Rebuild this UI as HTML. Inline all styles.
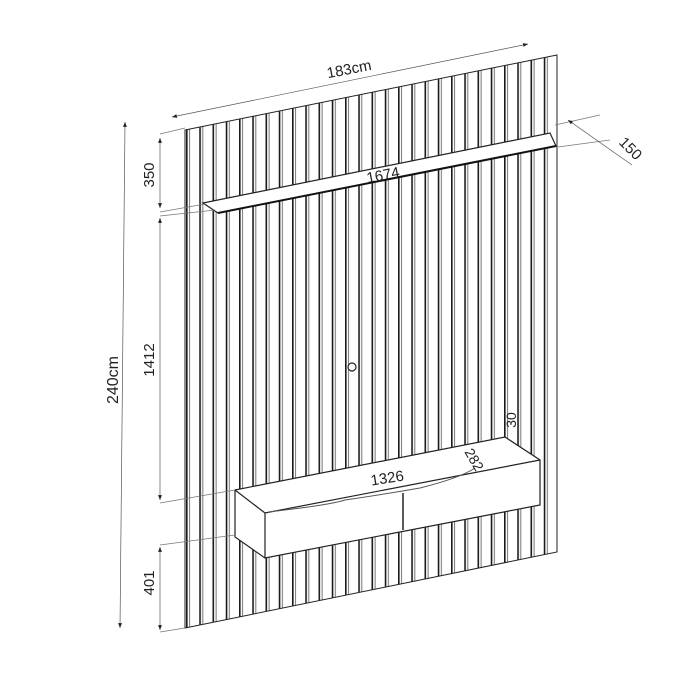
<!DOCTYPE html>
<html><head><style>
html,body{margin:0;padding:0;background:#fff;width:700px;height:700px;overflow:hidden}
svg text{font-family:"Liberation Sans",sans-serif;fill:#222}
</style></head><body>
<svg width="700" height="700" viewBox="0 0 700 700" xmlns="http://www.w3.org/2000/svg">
<defs>
<pattern id="sl" patternUnits="userSpaceOnUse" x="186" y="0" width="13.25" height="10">
<rect x="0" y="0" width="13.25" height="10" fill="#fff"/>
<rect x="0" y="0" width="1.6" height="10" fill="#1a1a1a"/>
<rect x="3.2" y="0" width="0.8" height="10" fill="#555"/>
</pattern>
<marker id="ar" viewBox="0 0 10 10" refX="10" refY="5" markerWidth="7" markerHeight="7" orient="auto-start-reverse"><path d="M0,1 L10,5 L0,9 z" fill="#222"/></marker>
</defs>

<polygon points="185,130 557,55 557,552 185,628" fill="url(#sl)" stroke="#222" stroke-width="1"/>

<!-- top shelf -->
<polygon points="203,203 550,133 556,146 218,213" fill="#fff" stroke="#222" stroke-width="1.2"/>
<line x1="218" y1="213" x2="556" y2="146" stroke="#111" stroke-width="2"/>

<circle cx="352" cy="367" r="4" fill="#fff" stroke="#222" stroke-width="1.2"/>

<!-- cabinet -->
<polygon points="235,490 505,437 540,460 540,505 265,558 235,537" fill="#fff" stroke="#222" stroke-width="1.2"/>
<polyline points="235,490 265,513 540,460" fill="none" stroke="#222" stroke-width="1.2"/>
<line x1="265" y1="513" x2="265" y2="558" stroke="#222" stroke-width="1.2"/>
<path d="M268,512 Q330,505 345,500 Q380,495 420,488 Q460,478 475,468" fill="none" stroke="#555" stroke-width="1"/>
<line x1="403" y1="493" x2="403" y2="530" stroke="#222" stroke-width="1.5"/>

<g stroke="#777" stroke-width="0.7" fill="none">
<line x1="172" y1="117" x2="528" y2="44" marker-start="url(#ar)" marker-end="url(#ar)" stroke="#555"/>
<line x1="125" y1="122" x2="120" y2="628" marker-start="url(#ar)" marker-end="url(#ar)" stroke="#555"/>
<line x1="160" y1="138" x2="160" y2="208" marker-start="url(#ar)" marker-end="url(#ar)" stroke="#555"/>
<line x1="160" y1="218" x2="160" y2="500" marker-start="url(#ar)" marker-end="url(#ar)" stroke="#555"/>
<line x1="160" y1="547" x2="160" y2="630" marker-start="url(#ar)" marker-end="url(#ar)" stroke="#555"/>
<line x1="160" y1="134" x2="185" y2="128"/>
<line x1="160" y1="212" x2="205" y2="204"/>
<line x1="160" y1="216" x2="215" y2="210"/>
<line x1="160" y1="503" x2="235" y2="490"/>
<line x1="160" y1="545" x2="235" y2="535"/>
<line x1="160" y1="632" x2="185" y2="628"/>
<line x1="555" y1="125" x2="600" y2="115"/>
<line x1="558" y1="147" x2="610" y2="140"/>
<line x1="568" y1="120" x2="632" y2="165" marker-start="url(#ar)" stroke="#555"/>
</g>

<text font-size="15" transform="translate(350,74) rotate(-11)" text-anchor="middle">183cm</text>
<text font-size="16" transform="translate(118,380) rotate(-90)" text-anchor="middle">240cm</text>
<text font-size="15" transform="translate(154,175) rotate(-90)" text-anchor="middle">350</text>
<text font-size="15" transform="translate(154,360) rotate(-90)" text-anchor="middle">1412</text>
<text font-size="15" transform="translate(154,583) rotate(-90)" text-anchor="middle">401</text>
<text font-size="15" transform="translate(627,152) rotate(45)" text-anchor="middle">150</text>
<text font-size="15" transform="translate(384,180) rotate(-11)" text-anchor="middle">1674</text>
<text font-size="15" transform="translate(388,483) rotate(-9)" text-anchor="middle">1326</text>
<text font-size="14" transform="translate(470,462) rotate(60)" text-anchor="middle">282</text>
<text font-size="14" transform="translate(516,420) rotate(-90)" text-anchor="middle">30</text>
</svg>
</body></html>
